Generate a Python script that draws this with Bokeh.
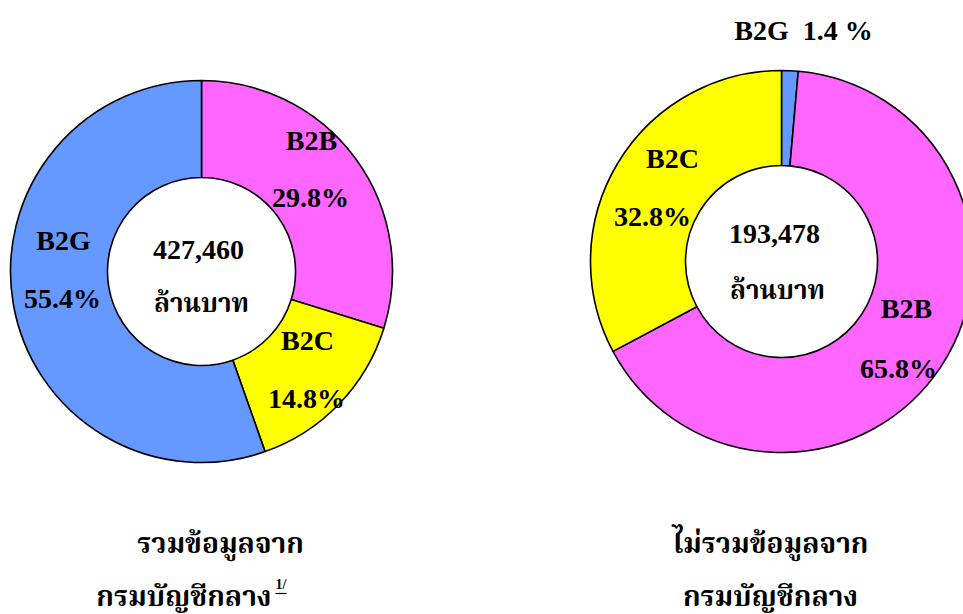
import numpy as np
from bokeh.plotting import figure
from bokeh.models import Range1d, ColumnDataSource
from bokeh.core.properties import value
from bokeh.embed import file_html
from bokeh.resources import INLINE

# ---- data ----
left_categories = ["B2B", "B2C", "B2G"]
left_shares = [29.8, 14.8, 55.4]
right_categories = ["B2G", "B2B", "B2C"]
right_shares = [1.4, 65.8, 32.8]
totals = ["427,460", "193,478"]
unit_label = "ล้านบาท"
titles_left = ["รวมข้อมูลจาก", "กรมบัญชีกลาง"]
titles_right = ["ไม่รวมข้อมูลจาก", "กรมบัญชีกลาง"]
footnote_mark = "1/"
colors = {"B2B": "#FF66FF", "B2C": "#FFFF00", "B2G": "#6699FF"}

W, H = 963, 614
SCREEN_H = 614


def sy(y):
    return SCREEN_H - y


p = figure(width=W, height=H, output_backend="svg", toolbar_location=None,
           x_range=Range1d(0, W), y_range=Range1d(SCREEN_H - H, SCREEN_H),
           x_axis_location=None, y_axis_location=None, min_border=0)
p.grid.visible = False
p.outline_line_color = None
p.background_fill_color = "white"

FONT = value("'Liberation Serif', 'Noto Serif Thai', Norasi, 'Tlwg Typo', serif")


def donut(cx, cy, cats, shares, r_in, r_out):
    s = np.array(shares, dtype=float)
    frac = s / s.sum()
    cum_end = np.cumsum(frac)
    cum_start = cum_end - frac
    src = ColumnDataSource(dict(
        cat=cats,
        start=np.pi / 2 - cum_end * 2 * np.pi,
        end=np.pi / 2 - cum_start * 2 * np.pi,
        color=[colors[c] for c in cats],
    ))
    p.annular_wedge(x=cx, y=sy(cy), inner_radius=r_in, outer_radius=r_out,
                    start_angle="start", end_angle="end", fill_color="color",
                    line_color="black", line_width=1.6, source=src)


donut(201, 271, left_categories, left_shares, 94, 191)
donut(781, 261, right_categories, right_shares, 96, 191)


def label(x, y, txt, size="28px", align="center"):
    p.text(x=[x], y=[sy(y)], text=[txt], text_font=FONT, text_font_style="bold",
           text_font_size=size, text_align=align, text_baseline="middle",
           text_color="black")


def pct(v):
    return f"{v:.1f}%"


# left donut labels
lpos = {"B2B": (311, 140, 310, 197), "B2C": (307, 340, 306, 398), "B2G": (63, 240, 62, 298)}
for c, v in zip(left_categories, left_shares):
    x1, y1, x2, y2 = lpos[c]
    label(x1, y1, c)
    label(x2, y2, pct(v))
label(198, 249, totals[0])
label(201, 303, unit_label, "26px")

# right donut labels
rpos = {"B2B": (906, 308, 898, 368), "B2C": (672, 158, 652, 216)}
for c, v in zip(right_categories, right_shares):
    if c == "B2G":
        label(803, 30, f"{c}\u00a0 {v:.1f} %")
    else:
        x1, y1, x2, y2 = rpos[c]
        label(x1, y1, c)
        label(x2, y2, pct(v))
label(774, 233, totals[1])
label(777, 290, unit_label, "26px")

# titles
label(220, 543, titles_left[0], "28px")
label(271, 596, titles_left[1], "28px", "right")
label(275, 584, footnote_mark, "14px", "left")
p.segment(x0=[275], y0=[sy(593)], x1=[286], y1=[sy(593)], line_color="black", line_width=1.2)
label(770, 543, titles_right[0], "28px")
label(770, 596, titles_right[1], "28px")

open("out.html", "w").write(file_html(p, INLINE))
